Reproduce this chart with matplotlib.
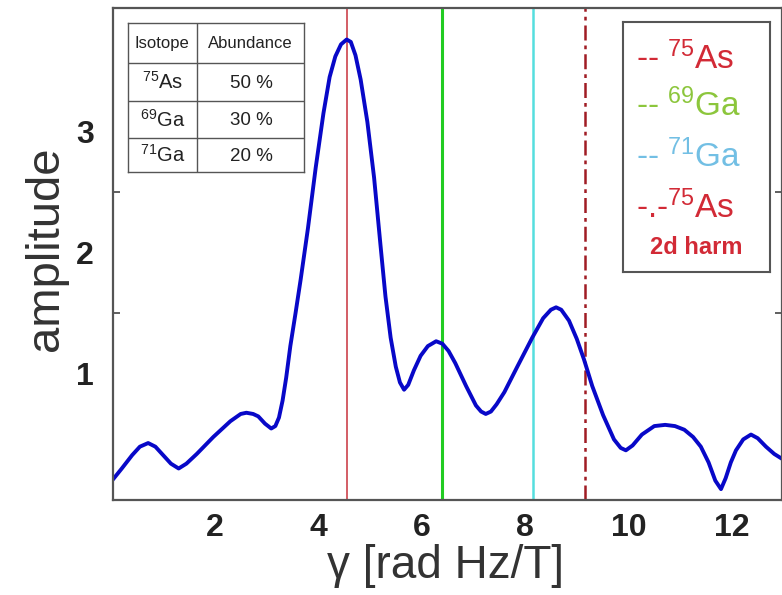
import numpy as np
import matplotlib
matplotlib.use('Agg')
import matplotlib.pyplot as plt

plt.rcParams['font.family'] = ['Liberation Sans', 'DejaVu Sans']
plt.rcParams['mathtext.fontset'] = 'custom'
plt.rcParams['mathtext.rm'] = 'Liberation Sans'
plt.rcParams['mathtext.it'] = 'Liberation Sans'

# spectrum
gamma = [0.03, 0.20, 0.40, 0.55, 0.71, 0.85, 1.00, 1.15, 1.30, 1.45, 1.65, 1.97,
         2.30, 2.50, 2.61, 2.74, 2.84, 2.97, 3.09, 3.17, 3.24, 3.31, 3.38, 3.46,
         3.56, 3.66, 3.80, 3.95, 4.10, 4.22, 4.33, 4.44, 4.55, 4.63, 4.72, 4.82,
         4.95, 5.08, 5.20, 5.30, 5.40, 5.50, 5.58, 5.66, 5.74, 5.85, 5.98, 6.12,
         6.28, 6.40, 6.52, 6.65, 6.86, 7.05, 7.15, 7.24, 7.34, 7.45, 7.60, 7.85,
         8.14, 8.35, 8.50, 8.60, 8.70, 8.85, 9.00, 9.14, 9.30, 9.51, 9.72, 9.85,
         9.95, 10.08, 10.26, 10.50, 10.71, 10.90, 11.08, 11.25, 11.40, 11.55, 11.68,
         11.79, 11.88, 11.98, 12.08, 12.22, 12.37, 12.50, 12.66, 12.82, 12.97]
amplitude = [0.13, 0.22, 0.33, 0.40, 0.43, 0.40, 0.33, 0.26, 0.22, 0.26, 0.34, 0.48,
             0.61, 0.67, 0.68, 0.67, 0.65, 0.59, 0.55, 0.57, 0.64, 0.78, 0.97, 1.23,
             1.50, 1.78, 2.20, 2.70, 3.15, 3.45, 3.62, 3.72, 3.76, 3.74, 3.63, 3.43,
             3.08, 2.62, 2.08, 1.64, 1.30, 1.06, 0.93, 0.87, 0.91, 1.03, 1.15, 1.23,
             1.27, 1.25, 1.19, 1.09, 0.90, 0.74, 0.69, 0.67, 0.69, 0.75, 0.85, 1.06,
             1.30, 1.46, 1.53, 1.55, 1.53, 1.44, 1.29, 1.12, 0.90, 0.66, 0.46, 0.39,
             0.37, 0.41, 0.50, 0.57, 0.58, 0.57, 0.54, 0.48, 0.40, 0.27, 0.12,
             0.05, 0.14, 0.27, 0.37, 0.46, 0.50, 0.47, 0.40, 0.34, 0.30]

# isotope lines
line_pos = [4.56, 6.40, 8.16, 9.16]

isotopes = ['$^{75}$As', '$^{69}$Ga', '$^{71}$Ga']
abundance = [50, 30, 20]

legend_labels = ['-- $^{75}$As', '-- $^{69}$Ga', '-- $^{71}$Ga', '-.-$^{75}$As']

fig = plt.figure(figsize=(7.82, 5.95), dpi=100)
ax = fig.add_axes([113/782, 1 - 500/595, 669/782, 492/595])

ax.axvline(line_pos[0], color='#c8323c', lw=1.1)
ax.axvline(line_pos[1], color='#22cc22', lw=2.2)
ax.axvline(line_pos[2], color='#55dede', lw=1.8)
ax.axvline(line_pos[3], color='#a01c24', lw=1.8, dashes=(6, 2, 1.5, 2))
ax.plot(gamma, amplitude, color='#0808c8', lw=2.8, solid_joinstyle='round')

ax.set_xlim(0.03, 12.97)
ax.set_ylim(-0.04, 4.02)

ax.set_xticks([2, 4, 6, 8, 10, 12])
ax.set_xticks([4, 6, 8, 10, 12], minor=True)
ax.set_yticks([1, 2, 3])
ax.set_yticks([1.5, 2, 2.5], minor=True)
ax.tick_params(which='major', length=0, labelsize=23, colors='#222222')
ax.tick_params(axis='x', which='major', pad=9)
ax.tick_params(axis='y', which='major', pad=14)
ax.tick_params(which='minor', direction='in', length=5, width=1.2,
               color='#444444', top=True, right=True)
for lab in ax.get_xticklabels() + ax.get_yticklabels():
    lab.set_fontweight('bold')
for sp in ax.spines.values():
    sp.set_color('#555555')
    sp.set_linewidth(1.6)

ax.set_xlabel('γ [rad Hz/T]', fontsize=33, color='#333333')
ax.xaxis.set_label_coords(0.497, -0.09)
ax.set_ylabel('amplitude', fontsize=34, color='#333333')
ax.yaxis.set_label_coords(-0.068, 0.51)

# abundance table
tab = fig.add_axes([127.7/782, 1 - 172/595, 176.3/782, 148.7/595])
tab.set_xlim(0, 1)
tab.set_ylim(1, 0)
tab.set_xticks([])
tab.set_yticks([])
for sp in tab.spines.values():
    sp.set_color('#555555')
    sp.set_linewidth(1)
rows = [0, 0.269, 0.52, 0.773, 1.0]
for r in rows[1:-1]:
    tab.axhline(r, color='#555555', lw=1)
tab.axvline(0.393, color='#555555', lw=1)
tab.text(0.196, rows[0] + 0.5 * (rows[1] - rows[0]), 'Isotope', ha='center', va='center',
         fontsize=12, color='#222222')
tab.text(0.696, rows[0] + 0.5 * (rows[1] - rows[0]), 'Abundance', ha='center', va='center',
         fontsize=12, color='#222222')
for i, (iso, ab) in enumerate(zip(isotopes, abundance)):
    yc = rows[i + 1] + 0.5 * (rows[i + 2] - rows[i + 1])
    tab.text(0.196, yc, iso, ha='center', va='center', fontsize=14.5, color='#222222')
    tab.text(0.70, yc + 0.01, '%d %%' % ab, ha='center', va='center', fontsize=13.5,
             color='#222222')

# legend box drawn by hand
leg = fig.add_axes([622.7/782, 1 - 271.7/595, 147.3/782, 250/595])
leg.set_xlim(0, 1)
leg.set_ylim(1, 0)
leg.set_xticks([])
leg.set_yticks([])
for sp in leg.spines.values():
    sp.set_color('#555555')
    sp.set_linewidth(1.5)
leg_colors = ['#d22a36', '#8cc63c', '#72bfe4', '#d22a36']
leg_y = [0.15, 0.335, 0.54, 0.745]
for lab, c, yy in zip(legend_labels, leg_colors, leg_y):
    leg.text(0.09, yy, lab, ha='left', va='center', fontsize=24, color=c)
leg.text(0.5, 0.905, '2d harm', ha='center', va='center', fontsize=17,
         fontweight='bold', color='#d22a36')

fig.savefig('out.png', dpi=100)
